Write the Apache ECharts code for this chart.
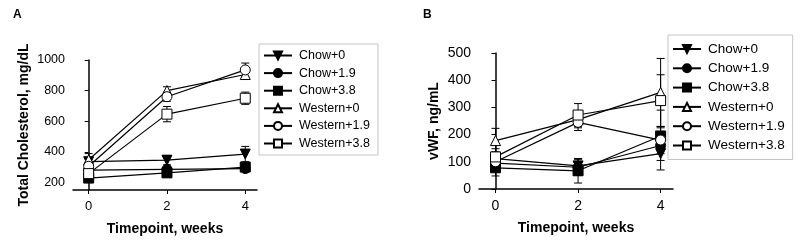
<!DOCTYPE html>
<html>
<head>
<meta charset="utf-8">
<script src="https://cdn.jsdelivr.net/npm/echarts@6/dist/echarts.min.js"></script>
<style>
  html, body { margin: 0; padding: 0; background: #fff; }
  #chart { width: 800px; height: 241px; }
</style>
</head>
<body>
<div id="chart"></div>
<script>
// timepoints (weeks)
const weeks = [0, 2, 4];
const groups = ['Chow+0', 'Chow+1.9', 'Chow+3.8', 'Western+0', 'Western+1.9', 'Western+3.8'];

// panel A: total cholesterol, mg/dL (mean, error)
const cholChow0 = [335, 345, 385];
const cholChow19 = [280, 285, 290];
const cholChow38 = [228, 262, 300];
const cholWest0 = [348, 800, 905];
const cholWest19 = [305, 760, 935];
const cholWest38 = [257, 646, 750];
const cholErrChow0 = [20, 30, 50];
const cholErrChow19 = [15, 20, 20];
const cholErrChow38 = [15, 15, 20];
const cholErrWest0 = [40, 25, 25];
const cholErrWest19 = [25, 30, 45];
const cholErrWest38 = [25, 50, 40];

// panel B: vWF, ng/mL (mean, error)
const vwfChow0 = [112, 85, 130];
const vwfChow19 = [95, 80, 160];
const vwfChow38 = [78, 67, 195];
const vwfWest0 = [178, 255, 355];
const vwfWest19 = [100, 245, 180];
const vwfWest38 = [118, 272, 325];
const vwfErrChow0 = [25, 25, 25];
const vwfErrChow19 = [20, 30, 30];
const vwfErrChow38 = [30, 45, 30];
const vwfErrWest0 = [45, 30, 125];
const vwfErrWest19 = [20, 30, 110];
const vwfErrWest38 = [30, 42, 95];

const cholTicks = [200, 400, 600, 800, 1000];
const xTicks = [0, 2, 4];

const FONT = 'Liberation Sans, Arial, sans-serif';
const downTri = 'path://M0,0 L10,0 L5,9 Z';
const marks = [
  { symbol: downTri, fill: '#000' },
  { symbol: 'circle', fill: '#000' },
  { symbol: 'rect', fill: '#000' },
  { symbol: 'triangle', fill: '#fff' },
  { symbol: 'circle', fill: '#fff' },
  { symbol: 'rect', fill: '#fff' }
];

const cholMeans = [cholChow0, cholChow19, cholChow38, cholWest0, cholWest19, cholWest38];
const cholErrs = [cholErrChow0, cholErrChow19, cholErrChow38, cholErrWest0, cholErrWest19, cholErrWest38];
const vwfMeans = [vwfChow0, vwfChow19, vwfChow38, vwfWest0, vwfWest19, vwfWest38];
const vwfErrs = [vwfErrChow0, vwfErrChow19, vwfErrChow38, vwfErrWest0, vwfErrWest19, vwfErrWest38];

function errorBars(means, errs, idx) {
  const data = [];
  means.forEach((m, g) => {
    m.forEach((v, i) => data.push([weeks[i], v, errs[g][i]]));
  });
  return {
    type: 'custom',
    xAxisIndex: idx,
    yAxisIndex: idx,
    z: 1,
    silent: true,
    renderItem: function (params, api) {
      const x = api.value(0), y = api.value(1), e = api.value(2);
      const top = api.coord([x, y + e]);
      const bot = api.coord([x, y - e]);
      const cap = 4;
      const st = { stroke: '#000', lineWidth: 1 };
      return {
        type: 'group',
        children: [
          { type: 'line', shape: { x1: top[0], y1: top[1], x2: bot[0], y2: bot[1] }, style: st },
          { type: 'line', shape: { x1: top[0] - cap, y1: top[1], x2: top[0] + cap, y2: top[1] }, style: st },
          { type: 'line', shape: { x1: bot[0] - cap, y1: bot[1], x2: bot[0] + cap, y2: bot[1] }, style: st }
        ]
      };
    },
    data: data
  };
}

function lineSeries(means, idx) {
  return means.map((m, g) => ({
    name: groups[g],
    type: 'line',
    xAxisIndex: idx,
    yAxisIndex: idx,
    z: 3,
    data: m.map((v, i) => [weeks[i], v]),
    symbol: marks[g].symbol,
    symbolSize: 10,
    lineStyle: { color: '#000', width: 1.2 },
    itemStyle: { color: marks[g].fill, borderColor: '#000', borderWidth: 1 },
    emphasis: { disabled: true }
  }));
}

const axisLine = { lineStyle: { color: '#000', width: 1.5 } };
const axisTick = { length: 4, lineStyle: { color: '#000', width: 1 } };

function xAxis(idx, size) {
  return {
    type: 'value', gridIndex: idx, min: -0.4, max: 4.3,
    splitLine: { show: false },
    axisLine: axisLine,
    axisTick: Object.assign({ customValues: xTicks }, axisTick),
    axisLabel: { customValues: xTicks, color: '#000', fontSize: size, fontFamily: FONT, margin: 10 },
    name: 'Timepoint, weeks', nameLocation: 'middle', nameGap: 32,
    nameTextStyle: { color: '#000', fontSize: 14, fontWeight: 'bold', fontFamily: FONT }
  };
}

function legend(left, top, size, gap, pad) {
  return {
    orient: 'vertical', left: left, top: top,
    data: groups.map(g => ({ name: g })),
    borderColor: '#c4c4c4', borderWidth: 1, padding: [pad, 8, pad, 4],
    itemWidth: 28, itemHeight: 10, itemGap: gap,
    textStyle: { color: '#000', fontSize: size, lineHeight: 10, fontFamily: FONT, padding: [0, 0, 0, 2] },
    selectedMode: false
  };
}

const chart = echarts.init(document.getElementById('chart'));
chart.setOption({
  animation: false,
  title: [
    { text: 'A', left: 8, top: 4, textStyle: { fontSize: 12, fontWeight: 'bold', fontFamily: FONT, color: '#000' } },
    { text: 'B', left: 418, top: 4, textStyle: { fontSize: 12, fontWeight: 'bold', fontFamily: FONT, color: '#000' } }
  ],
  grid: [
    { left: 73, top: 60, width: 184, height: 130 },
    { left: 479, top: 53, width: 194, height: 136 }
  ],
  xAxis: [xAxis(0, 13), xAxis(1, 14)],
  yAxis: [
    {
      type: 'value', gridIndex: 0, min: 150, max: 1000,
      splitLine: { show: false },
      axisLine: Object.assign({ show: true }, axisLine),
      axisTick: Object.assign({ show: true, customValues: cholTicks }, axisTick),
      axisLabel: { customValues: cholTicks, formatter: v => String(v), color: '#000', fontSize: 12.5, fontFamily: FONT, margin: 8 },
      name: 'Total Cholesterol, mg/dL', nameLocation: 'middle', nameGap: 42,
      nameTextStyle: { color: '#000', fontSize: 14, fontWeight: 'bold', fontFamily: FONT }
    },
    {
      type: 'value', gridIndex: 1, min: 0, max: 500, interval: 100,
      splitLine: { show: false },
      axisLine: Object.assign({ show: true }, axisLine),
      axisTick: Object.assign({ show: true }, axisTick),
      axisLabel: { color: '#000', fontSize: 14, fontFamily: FONT, margin: 8 },
      name: 'vWF, ng/mL', nameLocation: 'middle', nameGap: 38,
      nameTextStyle: { color: '#000', fontSize: 14, fontWeight: 'bold', fontFamily: FONT }
    }
  ],
  legend: [
    legend(259, 44, 12.5, 4.6, 5),
    legend(668, 35, 13.5, 5.3, 7)
  ],
  series: [
    errorBars(cholMeans, cholErrs, 0),
    ...lineSeries(cholMeans, 0),
    errorBars(vwfMeans, vwfErrs, 1),
    ...lineSeries(vwfMeans, 1)
  ]
});
</script>
</body>
</html>
